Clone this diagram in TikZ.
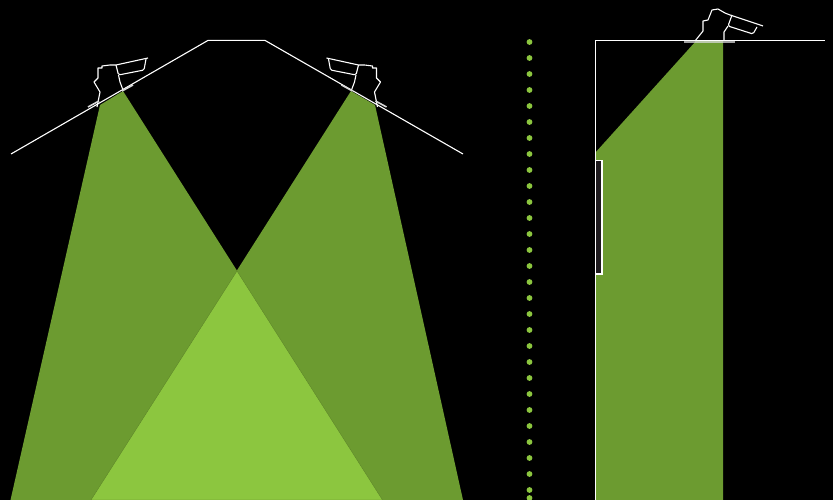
\documentclass[tikz,border=0pt]{standalone}
\definecolor{beamdark}{HTML}{6C9B30}
\definecolor{beamlight}{HTML}{8CC63F}
\definecolor{boxfill}{HTML}{1E1A1E}
\tikzset{
  wire/.style={draw=white,line width=1.1pt,line join=round},
  thickwire/.style={draw=white!85!black,line width=1.6pt},
  beam/.style={fill=beamdark},
  overlap/.style={fill=beamlight,draw=beamdark!80!black,line width=0.3pt}
}
\newcommand{\lampfigure}{%
    \draw[wire] (97,107) -- (100,92) -- (94,82) -- (98,78) -- (98,68) -- (102,68) -- (102,66) -- (110,65) -- (116,65) -- (148,58);
    \draw[wire,rounded corners=1.5pt] (116,65) -- (118.5,75) -- (144,70) -- (146,59);
    \draw[wire] (118.5,75) -- (120,82) -- (123,90);
    \draw[thickwire] (88,107) -- (99,101);
    \draw[thickwire] (122,91) -- (133,85);
}
\begin{document}
\begin{tikzpicture}[x=1pt,y=-1pt]
\useasboundingbox (0,0) rectangle (833,500);
\fill[black] (0,0) rectangle (833,500);
% beams
\fill[beam] (100,105) -- (123,91) -- (382.5,500) -- (10.5,500) -- cycle;
\fill[beam] (351,91) -- (375,105) -- (463,500) -- (91,500) -- cycle;
\path[overlap] (237,271) -- (382.5,500) -- (91,500) -- cycle;
\fill[beam] (595,153) -- (696,41) -- (723,41) -- (723,500) -- (595,500) -- cycle;
% ceiling left
\draw[wire] (11,154) -- (208,40.4) -- (265,40.4) -- (463,154);
\lampfigure
\begin{scope}[cm={-1,0,0,1,(474.5pt,0pt)}]
\lampfigure
\end{scope}
% centre dots
\foreach \y in {42,58,...,490} \fill[beamlight] (529.5,\y) circle (2.9);
\fill[beamlight] (529.5,498) circle (2.9);
% right section
\draw[wire] (595.5,500) -- (595.5,40.4) -- (825,40.4);
\draw[thickwire,draw opacity=0.75] (684,42) -- (735,42);
\draw[wire] (695,41) -- (703,31) -- (703,21) -- (708,20) -- (712,10) -- (718,9) -- (725,13) -- (730,15) -- (763,26);
\draw[wire,rounded corners=1.5pt] (732,15) -- (728,26) -- (753,34) -- (757,27);
\draw[wire] (728,26) -- (724,32) -- (724,41);
\draw[draw=white,line width=1.1pt,fill=boxfill] (595.5,160.5) rectangle (602,274);
\end{tikzpicture}
\end{document}
